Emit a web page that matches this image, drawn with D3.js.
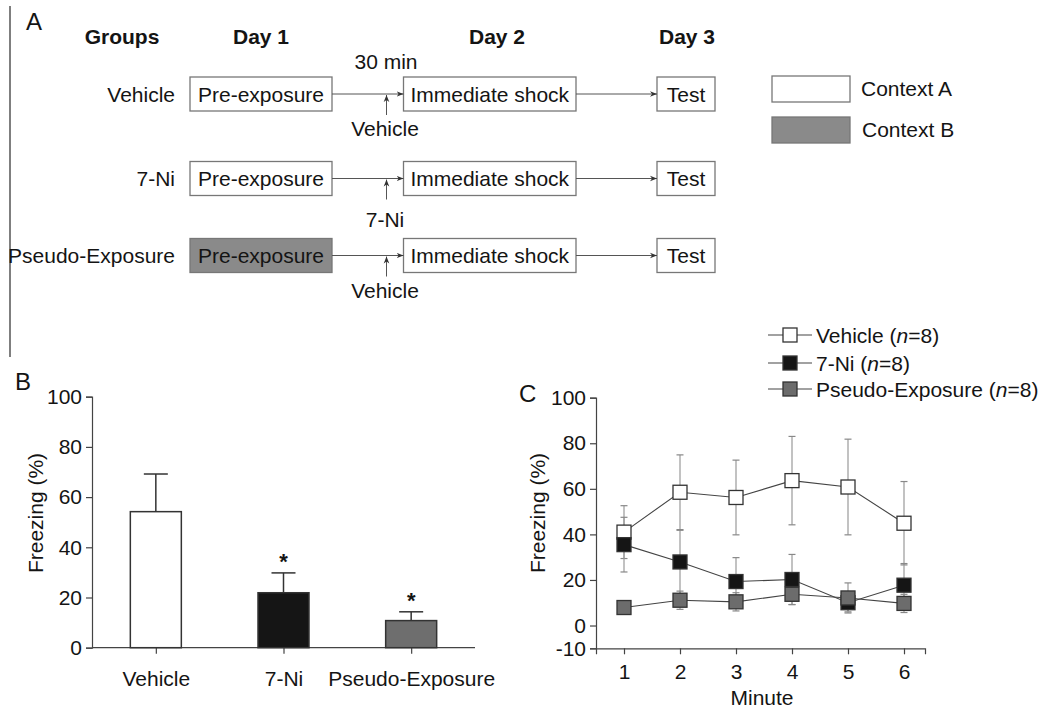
<!DOCTYPE html>
<html><head><meta charset="utf-8">
<script src="https://cdn.jsdelivr.net/npm/d3@7"></script>
<style>
body{margin:0;background:#fff;}
svg{font-family:"Liberation Sans",Arial,sans-serif;}
</style></head>
<body>
<svg id="chart" width="1042" height="708"></svg>
<script>
// ---------- Panel A data ----------
const dayHeaders = ["Groups", "Day 1", "Day 2", "Day 3"];
const groups = ["Vehicle", "7-Ni", "Pseudo-Exposure"];
const injections = ["Vehicle", "7-Ni", "Vehicle"];
const day1Context = ["A", "A", "B"];
const stepLabels = ["Pre-exposure", "Immediate shock", "Test"];
const intervalLabel = "30 min";
const contextLegend = ["Context A", "Context B"];

// ---------- Panel B data ----------
const barCategories = ["Vehicle", "7-Ni", "Pseudo-Exposure"];
const barMeans = [54.2, 21.9, 10.8];
const barSEM = [15.0, 7.9, 3.5];
const barSignificant = [false, true, true];
const barTicks = [0, 20, 40, 60, 80, 100];

// ---------- Panel C data ----------
const minutes = [1, 2, 3, 4, 5, 6];
const seriesNames = ["Vehicle", "7-Ni", "Pseudo-Exposure"];
const vehicleMeans = [41.0, 58.5, 56.2, 63.6, 60.8, 44.9];
const vehicleErr = [11.6, 16.4, 16.4, 19.4, 21.0, 18.3];
const niMeans = [35.5, 27.9, 19.3, 20.2, 10.0, 17.7];
const niErr = [12.0, 13.9, 10.5, 11.0, 4.0, 9.5];
const pseudoMeans = [7.9, 11.1, 10.4, 13.7, 12.1, 9.7];
const pseudoErr = [2.0, 4.0, 4.0, 4.5, 6.6, 4.0];
const lineTicks = [-10, 0, 20, 40, 60, 80, 100];

const svg = d3.select("#chart");
const FS = 21;
const TXT = "#141414";
const BOX = "#777";
const GRAYBOX = "#8a8a8a";

// ================= Panel A =================
const A = svg.append("g");
A.append("line").attr("x1", 10).attr("x2", 10).attr("y1", 6).attr("y2", 357)
  .attr("stroke", "#555").attr("stroke-width", 1.5);
A.append("text").attr("x", 26).attr("y", 30).attr("font-size", 24).attr("fill", TXT).text("A");

const headerX = d3.scaleOrdinal().domain(dayHeaders).range([122, 261, 497, 687]);
A.selectAll(".hdr").data(dayHeaders).join("text")
  .attr("x", d => headerX(d)).attr("y", 44).attr("text-anchor", "middle")
  .attr("font-size", FS).attr("font-weight", "bold").attr("fill", TXT).text(d => d);

A.append("text").attr("x", 386).attr("y", 69).attr("text-anchor", "middle")
  .attr("font-size", FS).attr("fill", TXT).text(intervalLabel);

const rowYv = [94, 178.5, 255.5];
const boxes = [ {x0: 190, x1: 332}, {x0: 403.5, x1: 576}, {x0: 657, x1: 715} ];
const BH = 34;

const defs = svg.append("defs");
defs.append("marker").attr("id", "arr").attr("viewBox", "0 0 10 10")
  .attr("refX", 10).attr("refY", 5).attr("markerWidth", 7).attr("markerHeight", 7)
  .attr("markerUnits", "userSpaceOnUse").attr("orient", "auto")
  .append("path").attr("d", "M0,1 L10,5 L0,9 L3,5 Z").attr("fill", "#333");

groups.forEach((g, i) => {
  const cy = rowYv[i];
  A.append("text").attr("x", 175).attr("y", cy + 7.5).attr("text-anchor", "end")
    .attr("font-size", FS).attr("fill", TXT).text(g);
  boxes.forEach((b, j) => {
    const fill = (j === 0 && day1Context[i] === "B") ? GRAYBOX : "#fff";
    A.append("rect").attr("x", b.x0).attr("y", cy - BH / 2).attr("width", b.x1 - b.x0).attr("height", BH)
      .attr("fill", fill).attr("stroke", BOX).attr("stroke-width", 1.3);
    A.append("text").attr("x", (b.x0 + b.x1) / 2).attr("y", cy + 7.5).attr("text-anchor", "middle")
      .attr("font-size", FS).attr("fill", TXT).text(stepLabels[j]);
  });
  A.append("line").attr("x1", boxes[0].x1).attr("x2", boxes[1].x0).attr("y1", cy).attr("y2", cy)
    .attr("stroke", "#555").attr("stroke-width", 1).attr("marker-end", "url(#arr)");
  A.append("line").attr("x1", boxes[1].x1).attr("x2", boxes[2].x0).attr("y1", cy).attr("y2", cy)
    .attr("stroke", "#555").attr("stroke-width", 1).attr("marker-end", "url(#arr)");
  A.append("line").attr("x1", 386.5).attr("x2", 386.5).attr("y1", cy + 21).attr("y2", cy + 1)
    .attr("stroke", "#555").attr("stroke-width", 1).attr("marker-end", "url(#arr)");
  const ly = i === 1 ? cy + 48 : cy + 42;
  A.append("text").attr("x", 385).attr("y", ly).attr("text-anchor", "middle")
    .attr("font-size", FS).attr("fill", TXT).text(injections[i]);
});

contextLegend.forEach((c, i) => {
  const y0 = [76, 117][i];
  A.append("rect").attr("x", 772).attr("y", y0).attr("width", 78).attr("height", 26)
    .attr("fill", i === 0 ? "#fff" : GRAYBOX).attr("stroke", BOX).attr("stroke-width", 1.3);
  A.append("text").attr("x", [861, 862][i]).attr("y", [96, 137][i])
    .attr("font-size", FS).attr("fill", TXT).text(c);
});

// ================= Panel B =================
const B = svg.append("g");
B.append("text").attr("x", 15).attr("y", 390).attr("font-size", 24).attr("fill", TXT).text("B");
const yB = d3.scaleLinear().domain([0, 100]).range([647.7, 396.7]);
const xB = d3.scalePoint().domain(barCategories).range([92, 475]).padding(0.5);
const BW = 51;
const hyphenFmt = d => String(d);

const yAxB = B.append("g").attr("transform", "translate(92,0)")
  .call(d3.axisLeft(yB).tickValues(barTicks).tickFormat(hyphenFmt).tickSize(6).tickPadding(4));
const xAxB = B.append("g").attr("transform", `translate(0,${yB(0)})`)
  .call(d3.axisBottom(xB).tickSize(6).tickPadding(17));
[yAxB, xAxB].forEach(ax => {
  ax.select(".domain").attr("stroke", "#444").attr("stroke-width", 1.2);
  ax.selectAll(".tick line").attr("stroke", "#444").attr("stroke-width", 1.2);
  ax.selectAll("text").attr("font-size", FS).attr("fill", TXT).attr("font-family", "Liberation Sans, Arial, sans-serif");
});
xAxB.select(".domain").attr("d", `M92,0H475`);
B.append("text").attr("transform", `translate(43,513) rotate(-90)`).attr("text-anchor", "middle")
  .attr("font-size", FS).attr("fill", TXT).text("Freezing (%)");

const barFill = ["#ffffff", "#151515", "#6e6e6e"];
barCategories.forEach((c, i) => {
  const cx = xB(c);
  B.append("line").attr("x1", cx).attr("x2", cx).attr("y1", yB(barMeans[i])).attr("y2", yB(barMeans[i] + barSEM[i]))
    .attr("stroke", "#333").attr("stroke-width", 1.5);
  B.append("line").attr("x1", cx - 12).attr("x2", cx + 12).attr("y1", yB(barMeans[i] + barSEM[i])).attr("y2", yB(barMeans[i] + barSEM[i]))
    .attr("stroke", "#333").attr("stroke-width", 1.5);
  B.append("rect").attr("x", cx - BW / 2).attr("y", yB(barMeans[i])).attr("width", BW)
    .attr("height", yB(0) - yB(barMeans[i])).attr("fill", barFill[i]).attr("stroke", "#333").attr("stroke-width", 1.5);
  if (barSignificant[i]) {
    B.append("text").attr("x", cx).attr("y", yB(barMeans[i] + barSEM[i]) - 4).attr("text-anchor", "middle")
      .attr("font-size", 22).attr("font-weight", "bold").attr("fill", TXT).text("*");
  }
});

// ================= Panel C =================
const C = svg.append("g");
C.append("text").attr("x", 519).attr("y", 402).attr("font-size", 24).attr("fill", TXT).text("C");
const yC = d3.scaleLinear().domain([-10, 100]).range([648.3, 397.7]);
const xC = d3.scaleLinear().domain([0.5, 6.375]).range([596, 925]);

const yAxC = C.append("g").attr("transform", "translate(596,0)")
  .call(d3.axisLeft(yC).tickValues(lineTicks).tickFormat(hyphenFmt).tickSize(6).tickPadding(4));
const xAxC = C.append("g").attr("transform", `translate(0,${yC(-10)})`)
  .call(d3.axisBottom(xC).tickValues(minutes).tickFormat(hyphenFmt).tickSize(6).tickPadding(10));
[yAxC, xAxC].forEach(ax => {
  ax.select(".domain").attr("stroke", "#444").attr("stroke-width", 1.2);
  ax.selectAll(".tick line").attr("stroke", "#444").attr("stroke-width", 1.2);
  ax.selectAll("text").attr("font-size", FS).attr("fill", TXT).attr("font-family", "Liberation Sans, Arial, sans-serif");
});
C.append("text").attr("transform", `translate(545,513) rotate(-90)`).attr("text-anchor", "middle")
  .attr("font-size", FS).attr("fill", TXT).text("Freezing (%)");
C.append("text").attr("x", 762).attr("y", 705).attr("text-anchor", "middle")
  .attr("font-size", FS).attr("fill", TXT).text("Minute");

const series = [
  {name: seriesNames[0], means: vehicleMeans, err: vehicleErr, fill: "#ffffff"},
  {name: seriesNames[1], means: niMeans, err: niErr, fill: "#151515"},
  {name: seriesNames[2], means: pseudoMeans, err: pseudoErr, fill: "#6c6c6c"}
];
const MS = 14;
series.forEach(s => {
  const g = C.append("g");
  minutes.forEach((m, i) => {
    const cx = xC(m), lo = yC(s.means[i] - s.err[i]), hi = yC(s.means[i] + s.err[i]);
    g.append("line").attr("x1", cx).attr("x2", cx).attr("y1", lo).attr("y2", hi)
      .attr("stroke", "#999").attr("stroke-width", 1.2);
    [lo, hi].forEach(y => g.append("line").attr("x1", cx - 3.5).attr("x2", cx + 3.5).attr("y1", y).attr("y2", y)
      .attr("stroke", "#888").attr("stroke-width", 1.2));
  });
});
const lineGen = d3.line().x((d, i) => xC(minutes[i])).y(d => yC(d));
series.forEach(s => {
  C.append("path").attr("d", lineGen(s.means)).attr("fill", "none").attr("stroke", "#444").attr("stroke-width", 1.1);
  C.selectAll(null).data(s.means).join("rect")
    .attr("x", (d, i) => xC(minutes[i]) - MS / 2).attr("y", d => yC(d) - MS / 2)
    .attr("width", MS).attr("height", MS).attr("fill", s.fill).attr("stroke", "#333").attr("stroke-width", 1.3);
});

const legY = [335, 363, 389];
series.forEach((s, i) => {
  const y = legY[i];
  C.append("line").attr("x1", 768).attr("x2", 812).attr("y1", y).attr("y2", y).attr("stroke", "#444").attr("stroke-width", 1.1);
  C.append("rect").attr("x", 790 - MS / 2).attr("y", y - MS / 2).attr("width", MS).attr("height", MS)
    .attr("fill", s.fill).attr("stroke", "#333").attr("stroke-width", 1.3);
  const t = C.append("text").attr("x", 816).attr("y", y + 7.5).attr("font-size", FS).attr("fill", TXT);
  t.append("tspan").text(s.name + " (");
  t.append("tspan").attr("font-style", "italic").text("n");
  t.append("tspan").text("=8)");
});
</script>
</body></html>
